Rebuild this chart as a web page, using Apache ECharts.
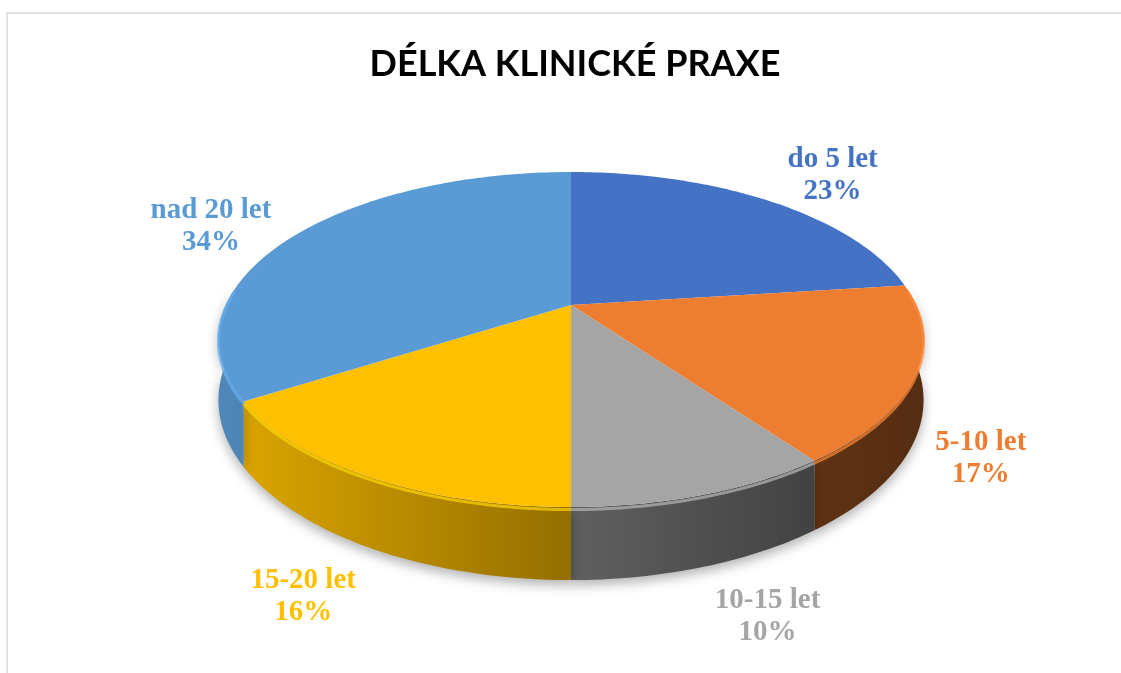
<!DOCTYPE html>
<html>
<head>
<meta charset="utf-8">
<title>Délka klinické praxe</title>
<script src="https://cdn.jsdelivr.net/npm/echarts/dist/echarts.min.js"></script>
<style>
  html, body { margin: 0; padding: 0; background: #fff; }
  #main { width: 1121px; height: 673px; }
</style>
</head>
<body>
<div id="main"></div>
<script>
// data
const categories = ['do 5 let', '5-10 let', '10-15 let', '15-20 let', 'nad 20 let'];
const percents = [23, 17, 10, 16, 34];
const colors = ['#4472C4', '#ED7D31', '#A5A5A5', '#FFC000', '#5B9BD5'];
const labelColors = ['#4472C4', '#ED7D31', '#A5A5A5', '#FFC000', '#5B9BD5'];

// posun popisku od okraje koláče (px)
const labelNudge = [[64, -25], [65, 84], [64, 122], [-65, 120], [-85, -8]];

const total = percents.reduce((a, b) => a + b, 0);
const cumul = [];
percents.reduce((acc, v, i) => { cumul[i] = acc; return acc + v; }, 0);

// "3D" perspektiva
const CX = 571, CY = 305;   // střed koláče
const RX = 345, RY = 160.4; // poloměry
const K = -0.206;           // perspektiva
const DEPTH = 58;           // výška boku

function proj(theta, drop) {
  const u = Math.sin(theta), v = -Math.cos(theta);
  const d = 1 + K * v;
  return [CX + RX * u / d, CY + RY * v / d + (drop || 0) / d];
}

function shade(hex, f) {
  const n = parseInt(hex.slice(1), 16);
  const r = Math.min(255, Math.round(((n >> 16) & 255) * f));
  const g = Math.min(255, Math.round(((n >> 8) & 255) * f));
  const b = Math.min(255, Math.round((n & 255) * f));
  return `rgb(${r},${g},${b})`;
}

function arc(a0, a1, drop) {
  const pts = [];
  const steps = Math.max(2, Math.ceil((a1 - a0) / (Math.PI / 180)));
  for (let s = 0; s <= steps; s++) {
    pts.push(proj(a0 + (a1 - a0) * s / steps, drop));
  }
  return pts;
}

function renderItem(params, api) {
  const i = params.dataIndex;
  const val = api.value(0);
  const a0 = cumul[i] / total * Math.PI * 2;
  const a1 = a0 + val / total * Math.PI * 2;
  const color = colors[i];
  const children = [];

  // bok - jen přední část
  const w0 = Math.max(a0, Math.PI / 2 - 0.1);
  const w1 = Math.min(a1, Math.PI * 1.5 + 0.1);
  if (w1 > w0) {
    const topRim = arc(w0, w1, 0);
    const botRim = arc(w0, w1, DEPTH).reverse();
    children.push({
      type: 'polygon',
      z2: 1,
      shape: { points: topRim.concat(botRim) },
      style: {
        fill: {
          type: 'linear', x: 217, y: 0, x2: 925, y2: 0, global: true,
          colorStops: [
            { offset: 0, color: shade(color, 0.88) },
            { offset: 0.5, color: shade(color, 0.58) },
            { offset: 0.84, color: shade(color, 0.40) },
            { offset: 1, color: shade(color, 0.36) }
          ]
        },
        shadowColor: 'rgba(0,0,0,0.3)',
        shadowBlur: 12,
        shadowOffsetY: 5
      }
    });
    // světlá hrana
    children.push({
      type: 'polyline',
      z2: 12,
      shape: { points: arc(w0, w1, 2) },
      style: { stroke: shade(color, 1.12), lineWidth: 3, opacity: 0.7, fill: null }
    });
  }

  // vrchní plocha
  children.push({
    type: 'polygon',
    z2: 10,
    shape: { points: [[CX, CY]].concat(arc(a0, a1, 0)) },
    style: { fill: color }
  });

  // popisek
  const mid = (a0 + a1) / 2;
  const p = proj(mid, 0);
  children.push({
    type: 'text',
    z2: 20,
    x: p[0] + labelNudge[i][0],
    y: p[1] + labelNudge[i][1],
    style: {
      text: categories[i] + '\n' + val + '%',
      fill: labelColors[i],
      font: 'bold 29px "Liberation Serif", "Times New Roman", serif',
      lineHeight: 32,
      align: 'center',
      verticalAlign: 'middle'
    }
  });

  return { type: 'group', children: children };
}

var myChart = echarts.init(document.querySelector('#main'));
var option = {
  backgroundColor: '#fff',
  animation: false,
  title: {
    text: 'DÉLKA KLINICKÉ PRAXE',
    left: 570,
    top: 41,
    textAlign: 'center',
    textStyle: {
      fontFamily: 'Lato',
      fontWeight: 'bold',
      fontSize: 36,
      color: '#000'
    }
  },
  graphic: [{
    type: 'rect',
    shape: { x: 7, y: 13, width: 1300, height: 800 },
    style: { fill: null, stroke: '#d9d9d9', lineWidth: 1.5 },
    silent: true
  }],
  series: [{
    type: 'custom',
    coordinateSystem: 'none',
    renderItem: renderItem,
    data: percents.map((v, i) => ({ name: categories[i], value: [v] }))
  }]
};
myChart.setOption(option);
</script>
</body>
</html>
